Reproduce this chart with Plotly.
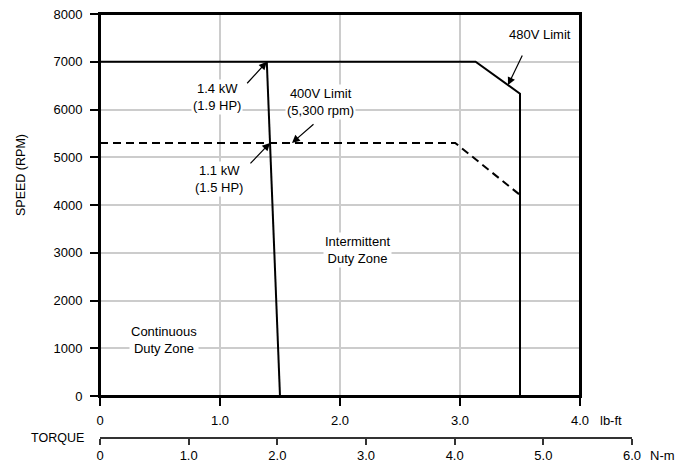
import plotly.graph_objects as go

# ---- data (torque in lb-ft, speed in rpm) ----
torque_480v = [0, 3.13, 3.5, 3.5]
speed_480v = [7000, 7000, 6330, 0]
torque_400v = [0, 2.96, 3.5]
speed_400v = [5300, 5300, 4210]
torque_power = [1.39, 1.5]
speed_power = [7000, 0]

lbft_ticks = [0, 1, 2, 3, 4]
lbft_labels = ["0", "1.0", "2.0", "3.0", "4.0"]
nm_ticks = [0, 1, 2, 3, 4, 5, 6]
nm_labels = ["0", "1.0", "2.0", "3.0", "4.0", "5.0", "6.0"]
speed_ticks = [0, 1000, 2000, 3000, 4000, 5000, 6000, 7000, 8000]

FONT = "Liberation Sans, Arial, sans-serif"
FS = 13
W, H = 688, 462
OFF = 8  # page body margin
# targets in screenshot pixels
LEFT, RIGHT_MAIN, RIGHT_NM, TOP, XAXIS_Y, NM_Y = 100, 580, 632, 14, 396, 437
ML = LEFT - OFF
MT = TOP - OFF
MR = W - (RIGHT_NM - OFF)
MB = H - (NM_Y - OFF)
PW = W - ML - MR
PH = H - MT - MB
x_main_end = (RIGHT_MAIN - LEFT) / PW
y_dom_start = (NM_Y - XAXIS_Y) / PH


def px2x(p):
    return (p - LEFT) / ((RIGHT_MAIN - LEFT) / 4.0)


def py2y(q):
    return (XAXIS_Y - q) * 8000.0 / (XAXIS_Y - TOP)


def ppx(p):
    return (p - LEFT) / PW


def ppy(q):
    return (NM_Y - q) / PH


fig = go.Figure()
fig.add_trace(go.Scatter(x=torque_480v, y=speed_480v, mode="lines",
                         line=dict(color="black", width=2), showlegend=False, hoverinfo="skip"))
fig.add_trace(go.Scatter(x=torque_400v, y=speed_400v, mode="lines",
                         line=dict(color="black", width=2, dash="8px,5px"), showlegend=False, hoverinfo="skip"))
fig.add_trace(go.Scatter(x=torque_power, y=speed_power, mode="lines",
                         line=dict(color="black", width=2), showlegend=False, hoverinfo="skip"))
# invisible helper so the N-m scale axis is drawn
fig.add_trace(go.Scatter(x=[nm_ticks[0], nm_ticks[-1]], y=[None, None], xaxis="x2", yaxis="y2",
                         mode="lines", showlegend=False, hoverinfo="skip"))

ann = []
for txt, px, py in [("1.4 kW<br>(1.9 HP)", 217, 97),
                    ("400V Limit<br>(5,300 rpm)", 320, 102),
                    ("1.1 kW<br>(1.5 HP)", 219, 179),
                    ("480V Limit", 540, 34),
                    ("Intermittent<br>Duty Zone", 357, 250),
                    ("Continuous<br>Duty Zone", 164, 340)]:
    ann.append(dict(x=px2x(px), y=py2y(py), xref="x", yref="y", text=txt, showarrow=False,
                    xanchor="center", yanchor="middle",
                    bgcolor="white", borderpad=1, font=dict(family=FONT, size=FS, color="black")))

x_int = torque_power[0] + (torque_power[1] - torque_power[0]) * (1 - speed_400v[0] / speed_power[0])
x480 = 3.40
y480 = speed_480v[1] - (x480 - torque_480v[1]) / (torque_480v[2] - torque_480v[1]) * (speed_480v[1] - speed_480v[2])
for tx, ty, ax, ay in [(torque_power[0], speed_power[0], -21, 23),
                       (1.6, speed_400v[0], 23, -20),
                       (x_int, speed_400v[0], -21, 22),
                       (x480, y480, 15, -31)]:
    ann.append(dict(x=tx, y=ty, xref="x", yref="y", ax=ax, ay=ay, axref="pixel", ayref="pixel",
                    text="", showarrow=True, arrowhead=2, arrowsize=1.3, arrowwidth=1.2,
                    arrowcolor="black", standoff=0, startstandoff=0))

for txt, px, py, xa, fs, ang in [("SPEED (RPM)", 21, 175, "center", 12.5, -90),
                                 ("TORQUE", 57, 438, "center", 12.5, 0),
                                 ("lb-ft", 598, 420, "left", FS, 0),
                                 ("N-m", 648, 455, "left", FS, 0)]:
    ann.append(dict(x=ppx(px), y=ppy(py), xref="paper", yref="paper", text=txt, textangle=ang,
                    xanchor=xa, yanchor="middle", showarrow=False,
                    font=dict(family=FONT, size=fs, color="black")))

fig.update_layout(
    width=W, height=H, margin=dict(l=ML, r=MR, t=MT, b=MB, autoexpand=False),
    paper_bgcolor="white", plot_bgcolor="white",
    font=dict(family=FONT, size=FS, color="black"),
    annotations=ann,
    shapes=[dict(type="rect", xref="x domain", yref="y domain", x0=0, x1=1, y0=0, y1=1,
                 line=dict(color="black", width=2), layer="above")],
    xaxis=dict(domain=[0, x_main_end], range=[0, 4], anchor="y", automargin=False,
               tickvals=lbft_ticks, ticktext=lbft_labels,
               showline=True, linecolor="black", linewidth=2, mirror=True,
               ticks="outside", ticklen=8, tickwidth=1.5, tickcolor="black",
               showgrid=True, gridcolor="#cccccc", gridwidth=1.5, zeroline=False,
               ticklabelstandoff=3, ticklabeloverflow="allow"),
    yaxis=dict(domain=[y_dom_start, 1], range=[0, 8000], anchor="x", automargin=False,
               tickvals=speed_ticks,
               showline=True, linecolor="black", linewidth=2, mirror=True,
               ticks="outside", ticklen=8, tickwidth=1.5, tickcolor="black",
               showgrid=True, gridcolor="#cccccc", gridwidth=1.5, zeroline=False,
               ticklabelstandoff=5, ticklabeloverflow="allow"),
    xaxis2=dict(domain=[0, 1], range=[nm_ticks[0], nm_ticks[-1]],
                anchor="y2", side="bottom", automargin=False,
                tickvals=nm_ticks, ticktext=nm_labels,
                showline=True, linecolor="#333333", linewidth=1.5,
                ticks="outside", ticklen=6, tickwidth=1.5, tickcolor="#333333",
                showgrid=False, zeroline=False, ticklabeloverflow="allow"),
    yaxis2=dict(domain=[0, 0.005], anchor="x2", visible=False, showgrid=False,
                zeroline=False, automargin=False),
)

fig.write_html("out.html")
